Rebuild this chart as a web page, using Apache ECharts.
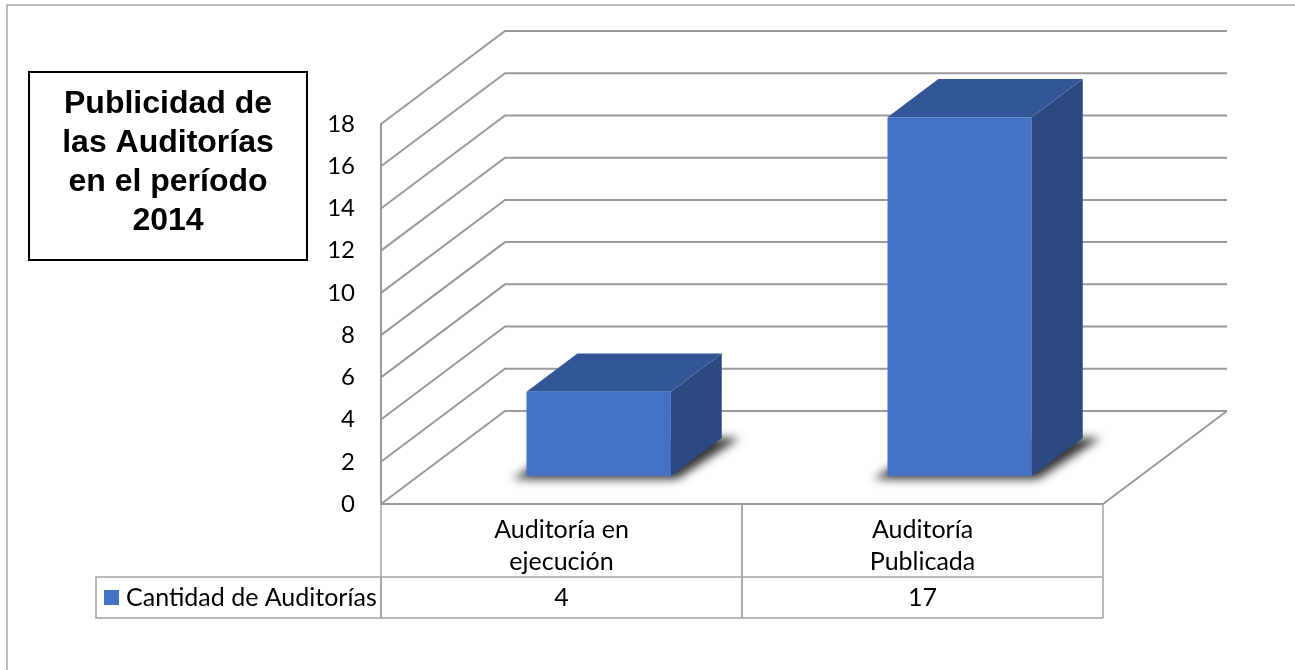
<!DOCTYPE html>
<html><head><meta charset="utf-8">
<script src="https://cdn.jsdelivr.net/npm/echarts@6/dist/echarts.min.js"></script>
<style>html,body{margin:0;padding:0;background:#fff}#c{width:1295px;height:670px}</style>
</head><body><div id="c"></div>
<script>
// ---- data ----
const categories = ['Auditoría en\nejecución', 'Auditoría\nPublicada'];
const seriesName = 'Cantidad de Auditorías';
const values = [4, 17];
const yTicks = [0, 2, 4, 6, 8, 10, 12, 14, 16, 18];
const titleLines = ['Publicidad de', 'las Auditorías', 'en el período', '2014'];

// ---- styles ----
const DX = 124, DY = -93;          // depth of the 3D floor
const GRID = '#9a9a9a';
const TBL = '#a3a3a3';
const FONT = 'Lato, "Open Sans", sans-serif';
const OFF = 3000;                  // off-screen caster for soft shadows

const chart = echarts.init(document.getElementById('c'), null, { renderer: 'canvas' });

function wallItem(params, api) {
  const cs = params.coordSys;
  const v = api.value(1);
  const y = api.coord([0, v])[1];
  const x0 = cs.x, x1 = cs.x + cs.width;
  const style = { stroke: GRID, lineWidth: 2, fill: null };
  const children = [{ type: 'polyline', shape: { points: [[x0, y], [x0 + DX, y + DY], [x1 + DX, y + DY]] }, style }];
  if (v === 0) children.push({ type: 'line', shape: { x1: x1, y1: y, x2: x1 + DX, y2: y + DY }, style });
  return { type: 'group', children };
}

function barItem(params, api) {
  const idx = api.value(0), v = api.value(1);
  const band = api.size([1, 0])[0];
  const c = api.coord([idx, 0]);
  const t = api.coord([idx, v]);
  const w = band * 0.40;
  const f0 = 0.30, f1 = 0.71;
  const ox = c[0] - w / 2 + DX * f0, oy = c[1] + DY * f0;
  const h = c[1] - t[1];
  const bx = DX * (f1 - f0), by = DY * (f1 - f0);
  const FL = [ox, oy], FR = [ox + w, oy], FLt = [ox, oy - h], FRt = [ox + w, oy - h];
  const BR = [ox + w + bx, oy + by], BL = [ox + bx, oy + by];
  const BRt = [BR[0], BR[1] - h], BLt = [BL[0], BL[1] - h];
  const sh = [[FL[0] - 14, FL[1] + 3], [FR[0] + 6, FR[1] + 3], [BR[0] + 18, BR[1]], [BL[0], BL[1]]]
    .map(p => [p[0] - OFF, p[1]]);
  return { type: 'group', children: [
    { type: 'polygon', shape: { points: sh },
      style: { fill: '#000', shadowBlur: 10, shadowColor: 'rgba(0,0,0,0.8)', shadowOffsetX: OFF, shadowOffsetY: 0 } },
    { type: 'polygon', shape: { points: [FR, BR, BRt, FRt] }, style: { fill: '#2A4980' } },
    { type: 'polygon', shape: { points: [FLt, FRt, BRt, BLt] }, style: { fill: '#325697' } },
    { type: 'rect', shape: { x: ox, y: oy - h, width: w, height: h }, style: { fill: '#4472C4' } }
  ] };
}

function tableItem(params, api) {
  const idx = api.value(0), v = api.value(1);
  const band = api.size([1, 0])[0];
  const c = api.coord([idx, 0]);
  const xl = c[0] - band / 2, xr = c[0] + band / 2, y0 = c[1];
  const r1 = 73, r2 = 41;
  const ls = { stroke: TBL, lineWidth: 1.5 };
  return { type: 'group', children: [
    { type: 'line', shape: { x1: xl, y1: y0, x2: xl, y2: y0 + r1 + r2 }, style: ls },
    { type: 'line', shape: { x1: xr, y1: y0, x2: xr, y2: y0 + r1 + r2 }, style: ls },
    { type: 'line', shape: { x1: xl, y1: y0 + r1, x2: xr, y2: y0 + r1 }, style: ls },
    { type: 'line', shape: { x1: xl, y1: y0 + r1 + r2, x2: xr, y2: y0 + r1 + r2 }, style: ls },
    { type: 'text', style: { text: categories[idx], x: c[0], y: y0 + r1 / 2 + 5, align: 'center', verticalAlign: 'middle',
      fontSize: 25, fontFamily: FONT, lineHeight: 32, fill: '#000' } },
    { type: 'text', style: { text: String(v), x: c[0], y: y0 + r1 + r2 / 2, align: 'center', verticalAlign: 'middle',
      fontSize: 25, fontFamily: FONT, fill: '#000' } }
  ] };
}

const idxData = values.map((v, i) => [i, v]);

chart.setOption({
  animation: false,
  backgroundColor: '#fff',
  grid: { left: 381, right: 192, top: 124, bottom: 166 },
  xAxis: {
    type: 'category', data: categories,
    axisLine: { show: true, lineStyle: { color: GRID, width: 2 } },
    axisTick: { show: false }, axisLabel: { show: false }, splitLine: { show: false }
  },
  yAxis: {
    type: 'value', min: 0, max: 18, interval: 2,
    axisLine: { show: true, lineStyle: { color: GRID, width: 2 } },
    axisTick: { show: false }, splitLine: { show: false },
    axisLabel: { margin: 26, fontSize: 24, fontFamily: FONT, color: '#000' }
  },
  legend: {
    data: [seriesName], left: 104, top: 585, padding: 0, selectedMode: false,
    icon: 'rect', itemWidth: 15, itemHeight: 15, itemGap: 0,
    textStyle: { fontSize: 25, fontFamily: FONT, color: '#000', padding: [0, 0, 0, 2] }
  },
  graphic: [
    { type: 'rect', shape: { x: 7, y: 5, width: 1300, height: 700 }, style: { fill: null, stroke: '#a6a6a6', lineWidth: 1.5 }, z: 0 },
    { type: 'rect', shape: { x: 96, y: 577, width: 285, height: 41 }, style: { fill: null, stroke: TBL, lineWidth: 1.5 }, z: 0 },
    { type: 'rect', shape: { x: 29, y: 72, width: 278, height: 188 }, style: { fill: '#fff', stroke: '#000', lineWidth: 2 }, z: 10 },
    { type: 'text', x: 168, y: 163, z: 11,
      style: { text: titleLines.join('\n'), align: 'center', verticalAlign: 'middle',
        font: 'bold 32px "Liberation Sans", Arial, sans-serif', lineHeight: 39, fill: '#000' } }
  ],
  series: [
    { type: 'custom', name: 'wall', silent: true, renderItem: wallItem, data: yTicks.map(t => [0, t]), encode: { x: 0, y: 1 }, z: 1 },
    { type: 'custom', name: seriesName, renderItem: barItem, data: idxData, encode: { x: 0, y: 1 }, itemStyle: { color: '#4472C4' }, z: 3 },
    { type: 'custom', name: 'table', silent: true, renderItem: tableItem, data: idxData, encode: { x: 0, y: 1 }, z: 2 }
  ]
});
</script>
</body></html>
